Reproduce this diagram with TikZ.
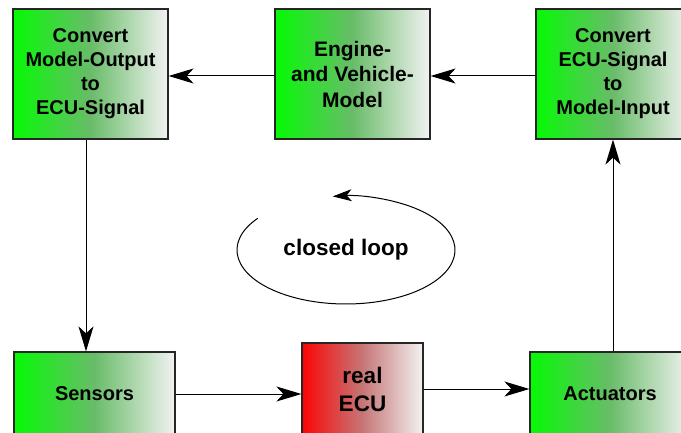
\documentclass[tikz,border=0pt]{standalone}
\usepackage{fontspec}
\setmainfont{Liberation Sans}
\usetikzlibrary{arrows.meta}

\definecolor{boxgreen}{RGB}{5,250,5}
\definecolor{greenmid}{RGB}{105,188,105}
\definecolor{boxred}{RGB}{252,5,5}
\definecolor{redmid}{RGB}{198,118,118}
\definecolor{shadegray}{RGB}{242,242,242}

\begin{document}
\begin{tikzpicture}[x=1pt,y=-1pt,
  box/.style={draw=black!85,line width=1.2pt,inner sep=0pt,align=center,
    minimum width=155pt,minimum height=130pt,font=\fontsize{20}{24}\selectfont\bfseries,
    left color=boxgreen,right color=shadegray,middle color=greenmid},
  bigtext/.style={font=\fontsize{21}{25.5}\selectfont\bfseries},
  arr/.style={-{Stealth[length=25pt,width=15pt,inset=7pt]},line width=1pt},
  looparr/.style={-{Stealth[length=19pt,width=12pt,inset=5pt]},line width=1pt}]
  \useasboundingbox (0,0) rectangle (681,433);
  \clip (0,0) rectangle (681,433);

  \node[box] (convout) at (90.5,74) {Convert\\Model-Output\\to\\ECU-Signal};
  \node[box,bigtext] (engine) at (352.5,74) {Engine-\\and Vehicle-\\Model};
  \node[box,minimum width=154pt] (convin) at (613,74) {Convert\\ECU-Signal\\to\\Model-Input};
  \node[box,minimum width=161pt,minimum height=84pt] (sensors) at (94.5,394) {Sensors};
  \node[box,minimum width=121pt,minimum height=92pt,font=\fontsize{22.5}{28}\selectfont\bfseries,
    left color=boxred,right color=shadegray,middle color=redmid] (ecu) at (362.5,389) {real\\ECU};
  \node[box,minimum width=160pt,minimum height=84pt] (actuators) at (610,394) {Actuators};

  \draw[arr] ([yshift=-2pt]engine.west) -- ([yshift=-2pt]convout.east);
  \draw[arr] ([yshift=-2pt]convin.west) -- ([yshift=-2pt]engine.east);
  \draw[arr] ([xshift=-4.5pt]convout.south) -- ([xshift=-4.5pt]convout.south |- sensors.north);
  \draw[arr] (sensors.east) -- (sensors.east -| ecu.west);
  \draw[arr] (ecu.east) -- (ecu.east -| actuators.west);
  \draw[arr] (convin.south |- actuators.north) -- (convin.south);

  \node[font=\fontsize{22.5}{26}\selectfont\bfseries] (loop) at (346,250) {closed loop};
  \draw[looparr] (loop.center) ++(216:109 and 54) arc[start angle=216,end angle=-97,x radius=109,y radius=54];
\end{tikzpicture}
\end{document}
